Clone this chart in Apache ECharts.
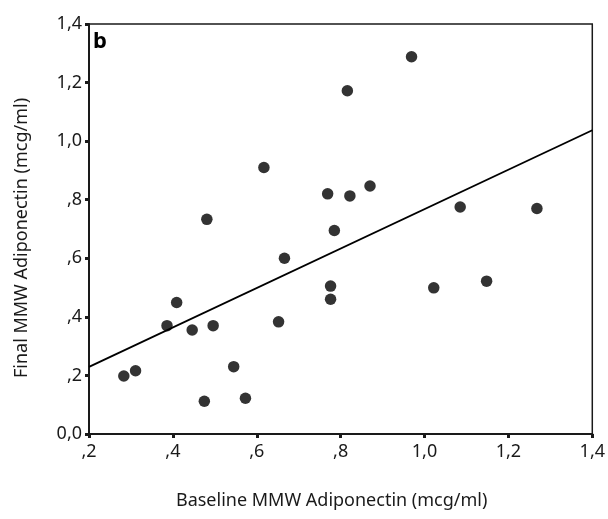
<!DOCTYPE html>
<html>
<head>
<meta charset="utf-8">
<script src="https://cdn.jsdelivr.net/npm/echarts@6/dist/echarts.min.js"></script>
<style>
  html, body { margin: 0; padding: 0; background: #fff; }
  #chart { width: 608px; height: 519px; }
</style>
</head>
<body>
<div id="chart"></div>
<script>
// baseline vs final MMW adiponectin (mcg/ml)
const baselineMMW = [0.283, 0.311, 0.386, 0.409, 0.446, 0.481, 0.475, 0.496, 0.545, 0.573,
  0.617, 0.652, 0.666, 0.769, 0.776, 0.776, 0.785, 0.816, 0.822, 0.870,
  0.969, 1.022, 1.085, 1.148, 1.268];
const finalMMW = [0.198, 0.216, 0.370, 0.449, 0.355, 0.733, 0.112, 0.370, 0.230, 0.122,
  0.910, 0.383, 0.600, 0.820, 0.505, 0.460, 0.695, 1.172, 0.813, 0.847,
  1.288, 0.499, 0.775, 0.522, 0.770];

// fit line endpoints
const fitX = [0.2, 1.4];
const fitY = [0.229, 1.037];

const xTitle = 'Baseline MMW Adiponectin (mcg/ml)';
const yTitle = 'Final MMW Adiponectin (mcg/ml)';
const panelLabel = 'b';

const FONT = '"Noto Sans", sans-serif';
const INK = '#1a1a1a';

// SPSS style labels: ",2", "1,0", "0,0"
function fmt(v) {
  if (Math.abs(v) < 1e-9) return '0,0';
  const s = v.toFixed(1).replace('.', ',');
  return v < 1 ? s.replace(/^0/, '') : s;
}

const chart = echarts.init(document.getElementById('chart'));

const axisCommon = {
  type: 'value',
  interval: 0.2,
  splitLine: { show: false },
  axisLine: { show: true, onZero: false, lineStyle: { color: INK, width: 2 } },
  axisTick: { show: true, length: 4, lineStyle: { color: INK, width: 3 } },
  axisLabel: { color: INK, fontFamily: FONT, fontSize: 18, formatter: fmt },
  nameLocation: 'middle',
  nameGap: 58,
  nameTextStyle: { color: INK, fontFamily: FONT, fontSize: 18 }
};

chart.setOption({
  backgroundColor: '#fff',
  animation: false,
  grid: {
    left: 89, right: 13, top: 24, bottom: 85,
    show: true, borderColor: INK, borderWidth: 1.5
  },
  xAxis: Object.assign({}, axisCommon, {
    min: 0.2, max: 1.4,
    name: xTitle,
    axisLabel: Object.assign({}, axisCommon.axisLabel, { margin: 9 }),
    nameTextStyle: Object.assign({}, axisCommon.nameTextStyle, { padding: [0, 18, 0, 0] })
  }),
  yAxis: Object.assign({}, axisCommon, {
    min: 0, max: 1.4,
    name: yTitle,
    axisLabel: Object.assign({}, axisCommon.axisLabel, { margin: 7 }),
    nameTextStyle: Object.assign({}, axisCommon.nameTextStyle, { padding: [0, 18, 0, 0] })
  }),
  graphic: [{
    type: 'text',
    left: 93, top: 31,
    style: { text: panelLabel, fill: '#000', font: 'bold 22px ' + FONT }
  }],
  series: [
    {
      type: 'scatter',
      symbol: 'circle',
      symbolSize: 11.5,
      itemStyle: { color: '#000' },
      data: baselineMMW.map((x, i) => [x, finalMMW[i]])
    },
    {
      type: 'line',
      symbol: 'none',
      lineStyle: { color: '#000', width: 1.8 },
      data: fitX.map((x, i) => [x, fitY[i]])
    }
  ]
});
</script>
</body>
</html>
